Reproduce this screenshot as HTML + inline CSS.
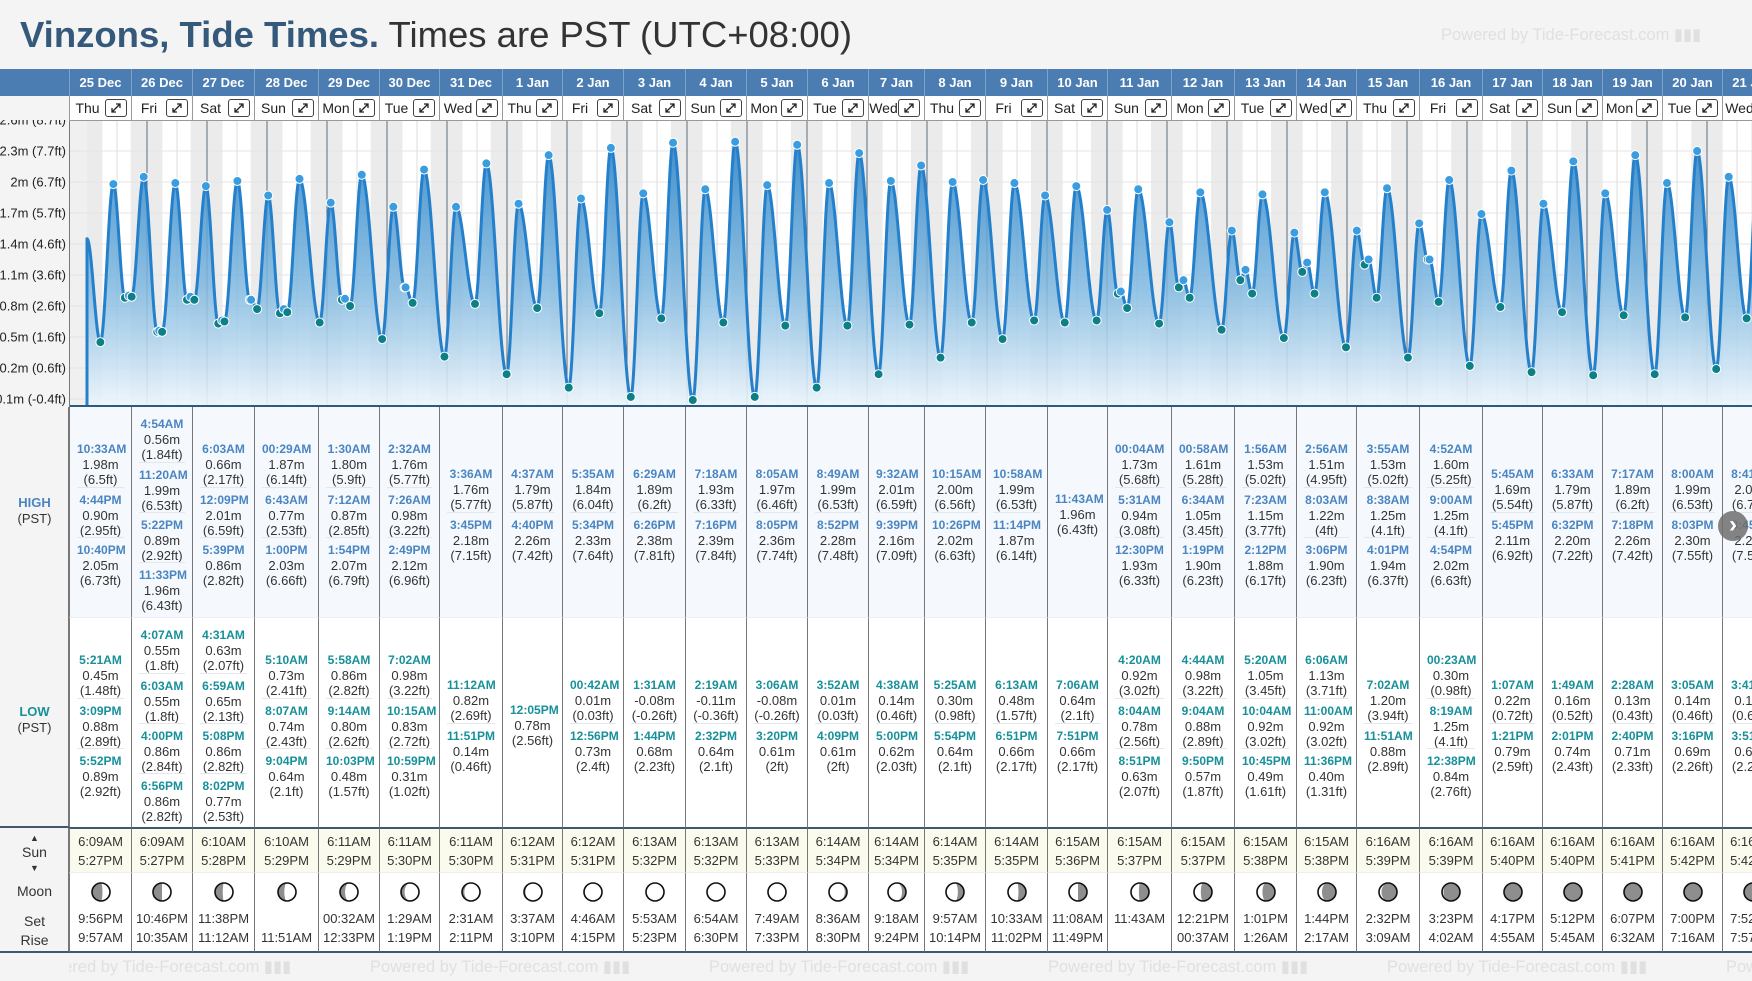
<!DOCTYPE html>
<html><head><meta charset="utf-8">
<style>
*{box-sizing:border-box}
body{margin:0;width:1752px;height:981px;overflow:hidden;background:#f4f4f4;font-family:"Liberation Sans",Arial,sans-serif;position:relative;color:#333}
.abs{position:absolute}
#title{left:20px;top:15px;font-size:36.5px;line-height:40px;white-space:nowrap;color:#333}
#title b{color:#35597a}
.wm{color:#e0e0e0;font-size:16.5px;white-space:nowrap}
.col{position:absolute;overflow:hidden}
.dh{top:69px;height:27px;background:#4b7db2;color:#fff;font-weight:bold;font-size:13px;text-align:center;line-height:27px;border-left:1px solid #7fa3c8}
.dr{top:96px;height:25px;background:#fff;border-left:1px solid #999;border-bottom:1px solid #999;font-size:14px;line-height:24px;color:#222}
.dr .nm{position:absolute;left:0;right:26px;text-align:center}
.dr .ex{position:absolute;right:4px;top:3px;width:22px;height:18px;border:1px solid #444;border-radius:3px}
.sec{position:absolute;display:flex;flex-direction:column;justify-content:center;align-items:center;border-left:1px solid #777;overflow:hidden}
.hi{top:407px;height:210px;background:#f5f9fd}
.lo{top:617px;height:210px;background:#fff;border-top:1px solid #e8eef4}
.en{width:calc(100% - 14px);height:50px;text-align:center;font-size:13px;line-height:15px;padding-top:4px;border-top:1px solid #e4e8ec;color:#333;white-space:nowrap}
.en:first-child{border-top:none}
.en .t{font-weight:bold;font-size:12px;line-height:16px}
.hi .t{color:#4a85c2}
.lo .t{color:#17909a}
.sun{top:827px;height:45px;background:#fbfbed;border-left:1px solid #777;border-top:2px solid #3f5870;text-align:center;font-size:13px;line-height:19px;padding-top:3px;color:#333}
.moon{top:872px;height:81px;background:#fff;border-left:1px solid #777;border-bottom:2px solid #3f5870;border-top:1px solid #eee;text-align:center;font-size:13px;color:#333}
</style></head>
<body>
<div id="title" class="abs"><b>Vinzons, Tide Times.</b> Times are PST (UTC+08:00)</div>
<div class="abs wm" style="left:1441px;top:25px">Powered by Tide-Forecast.com ▮▮▮</div>
<div class="abs" style="left:0;top:69px;width:69px;height:52px;background:#4b7db2"></div>
<div class="abs" style="left:0;top:96px;width:69px;height:25px;background:#f4f4f4"></div>
<svg id="chart" class="abs" style="left:0;top:0" width="1752" height="410"></svg>
<div id="table"></div>
<div class="abs" style="left:0;top:407px;width:69px;height:546px;background:#f4f4f4;border-right:1px solid #777"></div>
<div class="abs" style="left:0;top:826px;width:69px;height:2px;background:#3f5870"></div>
<div class="abs" style="left:0;top:951px;width:69px;height:2px;background:#3f5870"></div>
<div class="abs" style="left:0;top:495px;width:69px;text-align:center;font-size:13px;line-height:16px"><b style="color:#4a85c2">HIGH</b><br>(PST)</div>
<div class="abs" style="left:0;top:704px;width:69px;text-align:center;font-size:13px;line-height:16px"><b style="color:#17909a">LOW</b><br>(PST)</div>
<div class="abs" style="left:0;top:829px;width:69px;text-align:center;font-size:14px;line-height:14px"><span style="font-size:9px">▲</span><br>Sun<br><span style="font-size:9px">▼</span></div>
<div class="abs" style="left:0;top:882px;width:69px;text-align:center;font-size:14px;line-height:19px">Moon</div>
<div class="abs" style="left:0;top:912px;width:69px;text-align:center;font-size:14px;line-height:19px">Set<br>Rise</div>
<div class="abs" style="left:1718px;top:511px;width:30px;height:30px;border-radius:15px;background:rgba(110,110,110,0.85);color:#fff;font-size:24px;line-height:28px;text-align:center;font-weight:bold">›</div>
<div id="footer" class="abs" style="left:69px;top:953px;width:1683px;height:28px;overflow:hidden"></div>
<script>
const dates=["25 Dec","26 Dec","27 Dec","28 Dec","29 Dec","30 Dec","31 Dec","1 Jan","2 Jan","3 Jan","4 Jan","5 Jan","6 Jan","7 Jan","8 Jan","9 Jan","10 Jan","11 Jan","12 Jan","13 Jan","14 Jan","15 Jan","16 Jan","17 Jan","18 Jan","19 Jan","20 Jan","21 Jan"];
const dows=["Thu","Fri","Sat","Sun","Mon","Tue","Wed"];
const highs=[
["10:33AM 1.98 6.5ft","4:44PM 0.90 2.95ft","10:40PM 2.05 6.73ft"],
["4:54AM 0.56 1.84ft","11:20AM 1.99 6.53ft","5:22PM 0.89 2.92ft","11:33PM 1.96 6.43ft"],
["6:03AM 0.66 2.17ft","12:09PM 2.01 6.59ft","5:39PM 0.86 2.82ft"],
["00:29AM 1.87 6.14ft","6:43AM 0.77 2.53ft","1:00PM 2.03 6.66ft"],
["1:30AM 1.80 5.9ft","7:12AM 0.87 2.85ft","1:54PM 2.07 6.79ft"],
["2:32AM 1.76 5.77ft","7:26AM 0.98 3.22ft","2:49PM 2.12 6.96ft"],
["3:36AM 1.76 5.77ft","3:45PM 2.18 7.15ft"],
["4:37AM 1.79 5.87ft","4:40PM 2.26 7.42ft"],
["5:35AM 1.84 6.04ft","5:34PM 2.33 7.64ft"],
["6:29AM 1.89 6.2ft","6:26PM 2.38 7.81ft"],
["7:18AM 1.93 6.33ft","7:16PM 2.39 7.84ft"],
["8:05AM 1.97 6.46ft","8:05PM 2.36 7.74ft"],
["8:49AM 1.99 6.53ft","8:52PM 2.28 7.48ft"],
["9:32AM 2.01 6.59ft","9:39PM 2.16 7.09ft"],
["10:15AM 2.00 6.56ft","10:26PM 2.02 6.63ft"],
["10:58AM 1.99 6.53ft","11:14PM 1.87 6.14ft"],
["11:43AM 1.96 6.43ft"],
["00:04AM 1.73 5.68ft","5:31AM 0.94 3.08ft","12:30PM 1.93 6.33ft"],
["00:58AM 1.61 5.28ft","6:34AM 1.05 3.45ft","1:19PM 1.90 6.23ft"],
["1:56AM 1.53 5.02ft","7:23AM 1.15 3.77ft","2:12PM 1.88 6.17ft"],
["2:56AM 1.51 4.95ft","8:03AM 1.22 4ft","3:06PM 1.90 6.23ft"],
["3:55AM 1.53 5.02ft","8:38AM 1.25 4.1ft","4:01PM 1.94 6.37ft"],
["4:52AM 1.60 5.25ft","9:00AM 1.25 4.1ft","4:54PM 2.02 6.63ft"],
["5:45AM 1.69 5.54ft","5:45PM 2.11 6.92ft"],
["6:33AM 1.79 5.87ft","6:32PM 2.20 7.22ft"],
["7:17AM 1.89 6.2ft","7:18PM 2.26 7.42ft"],
["8:00AM 1.99 6.53ft","8:03PM 2.30 7.55ft"],
["8:41AM 2.05 6.73ft","8:45PM 2.29 7.51ft"]];
const lows=[
["5:21AM 0.45 1.48ft","3:09PM 0.88 2.89ft","5:52PM 0.89 2.92ft"],
["4:07AM 0.55 1.8ft","6:03AM 0.55 1.8ft","4:00PM 0.86 2.84ft","6:56PM 0.86 2.82ft"],
["4:31AM 0.63 2.07ft","6:59AM 0.65 2.13ft","5:08PM 0.86 2.82ft","8:02PM 0.77 2.53ft"],
["5:10AM 0.73 2.41ft","8:07AM 0.74 2.43ft","9:04PM 0.64 2.1ft"],
["5:58AM 0.86 2.82ft","9:14AM 0.80 2.62ft","10:03PM 0.48 1.57ft"],
["7:02AM 0.98 3.22ft","10:15AM 0.83 2.72ft","10:59PM 0.31 1.02ft"],
["11:12AM 0.82 2.69ft","11:51PM 0.14 0.46ft"],
["12:05PM 0.78 2.56ft"],
["00:42AM 0.01 0.03ft","12:56PM 0.73 2.4ft"],
["1:31AM -0.08 -0.26ft","1:44PM 0.68 2.23ft"],
["2:19AM -0.11 -0.36ft","2:32PM 0.64 2.1ft"],
["3:06AM -0.08 -0.26ft","3:20PM 0.61 2ft"],
["3:52AM 0.01 0.03ft","4:09PM 0.61 2ft"],
["4:38AM 0.14 0.46ft","5:00PM 0.62 2.03ft"],
["5:25AM 0.30 0.98ft","5:54PM 0.64 2.1ft"],
["6:13AM 0.48 1.57ft","6:51PM 0.66 2.17ft"],
["7:06AM 0.64 2.1ft","7:51PM 0.66 2.17ft"],
["4:20AM 0.92 3.02ft","8:04AM 0.78 2.56ft","8:51PM 0.63 2.07ft"],
["4:44AM 0.98 3.22ft","9:04AM 0.88 2.89ft","9:50PM 0.57 1.87ft"],
["5:20AM 1.05 3.45ft","10:04AM 0.92 3.02ft","10:45PM 0.49 1.61ft"],
["6:06AM 1.13 3.71ft","11:00AM 0.92 3.02ft","11:36PM 0.40 1.31ft"],
["7:02AM 1.20 3.94ft","11:51AM 0.88 2.89ft"],
["00:23AM 0.30 0.98ft","8:19AM 1.25 4.1ft","12:38PM 0.84 2.76ft"],
["1:07AM 0.22 0.72ft","1:21PM 0.79 2.59ft"],
["1:49AM 0.16 0.52ft","2:01PM 0.74 2.43ft"],
["2:28AM 0.13 0.43ft","2:40PM 0.71 2.33ft"],
["3:05AM 0.14 0.46ft","3:16PM 0.69 2.26ft"],
["3:41AM 0.19 0.62ft","3:51PM 0.68 2.23ft"]];
const sunrise=["6:09AM","6:09AM","6:10AM","6:10AM","6:11AM","6:11AM","6:11AM","6:12AM","6:12AM","6:13AM","6:13AM","6:13AM","6:14AM","6:14AM","6:14AM","6:14AM","6:15AM","6:15AM","6:15AM","6:15AM","6:15AM","6:16AM","6:16AM","6:16AM","6:16AM","6:16AM","6:16AM","6:16AM"];
const sunset=["5:27PM","5:27PM","5:28PM","5:29PM","5:29PM","5:30PM","5:30PM","5:31PM","5:31PM","5:32PM","5:32PM","5:33PM","5:34PM","5:34PM","5:35PM","5:35PM","5:36PM","5:37PM","5:37PM","5:38PM","5:38PM","5:39PM","5:39PM","5:40PM","5:40PM","5:41PM","5:42PM","5:42PM"];
const moonSet=["9:56PM","10:46PM","11:38PM","","00:32AM","1:29AM","2:31AM","3:37AM","4:46AM","5:53AM","6:54AM","7:49AM","8:36AM","9:18AM","9:57AM","10:33AM","11:08AM","11:43AM","12:21PM","1:01PM","1:44PM","2:32PM","3:23PM","4:17PM","5:12PM","6:07PM","7:00PM","7:52PM"];
const moonRise=["9:57AM","10:35AM","11:12AM","11:51AM","12:33PM","1:19PM","2:11PM","3:10PM","4:15PM","5:23PM","6:30PM","7:33PM","8:30PM","9:24PM","10:14PM","11:02PM","11:49PM","","00:37AM","1:26AM","2:17AM","3:09AM","4:02AM","4:55AM","5:45AM","6:32AM","7:16AM","7:57AM"];
const moonLit=[0.42,0.5,0.57,0.65,0.72,0.8,0.87,0.92,0.96,0.99,1.0,0.97,0.88,0.78,0.66,0.58,0.5,0.44,0.38,0.3,0.22,0.14,0.08,0.04,0.01,0.0,0.01,0.04];
const moonWaxing=[1,1,1,1,1,1,1,1,1,1,1,0,0,0,0,0,0,0,0,0,0,0,0,0,0,0,1,1];
const yTicks=[-0.1,0.2,0.5,0.8,1.1,1.4,1.7,2.0,2.3,2.6];
const yTickLabels=["-0.1m (-0.4ft)","0.2m (0.6ft)","0.5m (1.6ft)","0.8m (2.6ft)","1.1m (3.6ft)","1.4m (4.6ft)","1.7m (5.7ft)","2m (6.7ft)","2.3m (7.7ft)","2.6m (8.7ft)"];
const startLevel=1.45;

const colX=[69,131,192,254,318,379,439,502,562,623,685,746,807,868,924,985,1047,1107,1171,1234,1296,1356,1419,1482,1542,1602,1662,1722,1782];
const PT=121,PB=407;
const xT=t=>87+t*60;
const yV=v=>399-(v+0.1)*103.33;
function parseT(s){const m=s.match(/(\d+):(\d+)(AM|PM)/);let h=+m[1];if(m[3]==='PM'&&h!==12)h+=12;if(m[3]==='AM'&&h===12)h=0;return h+(+m[2])/60;}
const NS='http://www.w3.org/2000/svg';
const svg=document.getElementById('chart');
function mk(tag,attrs,parent){const e=document.createElementNS(NS,tag);for(const k in attrs)e.setAttribute(k,attrs[k]);(parent||svg).appendChild(e);return e;}

const defs=mk('defs',{});
const cp=mk('clipPath',{id:'plot'},defs);mk('rect',{x:69,y:PT,width:1683,height:PB-PT},cp);
const cl=mk('clipPath',{id:'labclip'},defs);mk('rect',{x:0,y:PT-1,width:69,height:PB-PT+1},cl);
const lg=mk('linearGradient',{id:'fillg',x1:0,y1:0,x2:0,y2:1},defs);
mk('stop',{offset:'0','stop-color':'#2f86c8','stop-opacity':'0.9'},lg);
mk('stop',{offset:'0.55','stop-color':'#7fb8e0','stop-opacity':'0.85'},lg);
mk('stop',{offset:'1','stop-color':'#eef6fc','stop-opacity':'0.9'},lg);
const g=mk('g',{'clip-path':'url(#plot)'});


mk('rect',{x:69,y:PT,width:1683,height:PB-PT,fill:'#f0f0f0'},g);
mk('rect',{x:87,y:PT,width:1700,height:PB-PT,fill:'#fff'},g);
for(let i=0;i<28;i++){
  const r=parseT(sunrise[i])/24,s=parseT(sunset[i])/24;
  const n1=mk('rect',{x:xT(i),y:PT,width:xT(i+r)-xT(i),height:PB-PT,fill:'#ebebeb'},g);
  
  
  const n2=mk('rect',{x:xT(i+s),y:PT,width:xT(i+1)-xT(i+s),height:PB-PT,fill:'#ebebeb'},g);
  
  
  const nl=mk('line',{x1:xT(i+0.5),x2:xT(i+0.5),y1:PT,y2:PB,stroke:'#dcdcdc','stroke-width':1},g);
  
  
}
yTicks.forEach(v=>{const l=mk('line',{x1:69,x2:1752,y1:yV(v),y2:yV(v),stroke:'#e4e4e4','stroke-width':1},g);
  
  });
for(let i=1;i<28;i++){const l=mk('line',{x1:xT(i),x2:xT(i),y1:PT,y2:PB,stroke:'#5d6f80','stroke-width':1},g);
  
  }
const ev=[{t:0,v:startLevel,k:'s'}];
for(let i=0;i<28;i++){
  highs[i].forEach(s=>{const p=s.split(' ');ev.push({t:i+parseT(p[0])/24,v:parseFloat(p[1]),k:'h'});});
  lows[i].forEach(s=>{const p=s.split(' ');ev.push({t:i+parseT(p[0])/24,v:parseFloat(p[1]),k:'l'});});
}
ev.sort((a,b)=>a.t-b.t);
let d='',j=0;const x0=xT(0),xEnd=xT(ev[ev.length-1].t);
for(let x=x0;x<=Math.min(xEnd,1760);x+=0.5){
  const t=(x-87)/60;while(j<ev.length-2&&ev[j+1].t<t)j++;
  const a=ev[j],b=ev[j+1];const f=Math.max(0,Math.min(1,(t-a.t)/(b.t-a.t)));
  const v=a.v+(b.v-a.v)*(1-Math.cos(Math.PI*f))/2;
  d+=(d?'L':'M')+x.toFixed(1)+','+yV(v).toFixed(1);
}
const lastX=Math.min(xEnd,1760);
const area=mk('path',{d:d+'L'+lastX+','+PB+'L'+x0+','+PB+'Z',fill:'url(#fillg)'},g);


const line=mk('path',{d:'M'+x0+','+PB+'L'+d.slice(1),fill:'none',stroke:'#2580cc','stroke-width':3,'stroke-linejoin':'round'},g);


ev.forEach(e=>{if(e.k==='s')return;
  const c=mk('circle',{cx:xT(e.t),cy:yV(e.v),r:4.5,fill:e.k==='h'?'#3a9de0':'#0c7f87',stroke:'#fff','stroke-width':1},g);
  
  });
mk('rect',{x:69,y:405,width:1683,height:3,fill:'#2d5b80'});
mk('line',{x1:69.5,x2:69.5,y1:PT,y2:PB,stroke:'#777'});
const lgp=mk('g',{'clip-path':'url(#labclip)'});
yTicks.forEach((v,i)=>{const t=mk('text',{x:66,y:yV(v)+4.5,'text-anchor':'end','font-size':13,fill:'#222','font-family':'Liberation Sans, Arial, sans-serif'},lgp);
  t.textContent=yTickLabels[i];
  
  });

const tb=document.getElementById('table');
function moonSVG(lit,wax){
  const r=9,c=12;
  const k=Math.abs(1-2*lit)*r;
  const top=`${c},${c-r}`,bot=`${c},${c+r}`;
  const sweepOuter=wax?1:0;
  const sweepInner=lit>0.5?(wax?1:0):(wax?0:1);
  const p=`M${top} A${r},${r} 0 0 ${sweepOuter} ${bot} A${k.toFixed(2)},${r} 0 0 ${sweepInner} ${top}Z`;
  return `<svg width="24" height="24" style="display:block;margin:0 auto"><circle cx="12" cy="12" r="9" fill="#8e8e8e"/><path d="${p}" fill="#fff"/><circle cx="12" cy="12" r="9" fill="none" stroke="#111" stroke-width="1.6"/></svg>`;
}
const exSVG='<svg width="20" height="16" style="position:absolute;left:0;top:0"><path d="M6 12 L14 4 M10 4 L14 4 L14 8 M6 8 L6 12 L10 12" stroke="#222" stroke-width="1.3" fill="none"/></svg>';
for(let i=0;i<28;i++){
  const L=colX[i],W=colX[i+1]-colX[i];
  const dh=document.createElement('div');dh.className='col dh';dh.style.left=L+'px';dh.style.width=W+'px';dh.textContent=dates[i];
  
  
  tb.appendChild(dh);
  const dr=document.createElement('div');dr.className='col dr';dr.style.left=L+'px';dr.style.width=W+'px';
  dr.innerHTML='<span class="nm">'+dows[i%7]+'</span>';
  
  
  const ex=document.createElement('span');ex.className='ex';ex.innerHTML=exSVG;
  
  
  dr.appendChild(ex);tb.appendChild(dr);
  [['hi',highs[i],'high-tide-cell'],['lo',lows[i],'low-tide-cell']].forEach(([cls,arr,nm])=>{
    const s=document.createElement('div');s.className='sec '+cls;s.style.left=L+'px';s.style.width=W+'px';
    
    
    arr.forEach(str=>{const p=str.split(' ');const e=document.createElement('div');e.className='en';
      e.innerHTML='<div class="t">'+p[0]+'</div><div>'+p[1]+'m</div><div>('+p[2]+')</div>';
      
      
      s.appendChild(e);});
    tb.appendChild(s);
  });
  const su=document.createElement('div');su.className='col sun';su.style.left=L+'px';su.style.width=W+'px';
  su.innerHTML=sunrise[i]+'<br>'+sunset[i];
  
  
  tb.appendChild(su);
  const mo=document.createElement('div');mo.className='col moon';mo.style.left=L+'px';mo.style.width=W+'px';
  mo.innerHTML='<div style="height:7px"></div>'+moonSVG(moonLit[i],moonWaxing[i])+'<div style="line-height:19px;margin-top:5px">'+(moonSet[i]||'&nbsp;')+'<br>'+(moonRise[i]||'&nbsp;')+'</div>';
  
  
  tb.appendChild(mo);
}
const ft=document.getElementById('footer');
for(let k=0;k<6;k++){const w=document.createElement('div');w.className='abs wm';w.style.left=(-38+k*339)+'px';w.style.top='4px';
  w.textContent='Powered by Tide-Forecast.com ▮▮▮';
  
  
  ft.appendChild(w);}
</script>
</body></html>
